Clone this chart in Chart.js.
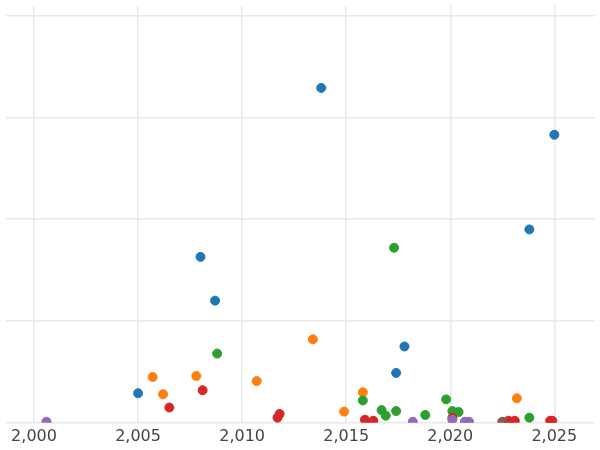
<!DOCTYPE html>
<html>
<head>
<script src="https://cdn.jsdelivr.net/npm/chart.js@4"></script>
<style>body{margin:0}#wrap{width:600px;height:450px}</style>
</head>
<body>
<div id="wrap"><canvas id="c"></canvas></div>
<script>
var xTicks = [2000, 2005, 2010, 2015, 2020, 2025];
var yGrid = [0, 1, 2, 3, 4];

var blueX = [2013.8, 2025.0, 2023.8, 2008.0, 2008.7, 2017.8, 2017.4, 2005.0];
var blueY = [3.29, 2.83, 1.90, 1.63, 1.20, 0.75, 0.49, 0.29];
var orangeX = [2005.7, 2006.2, 2007.8, 2010.7, 2013.4, 2015.8, 2014.9, 2023.2];
var orangeY = [0.45, 0.28, 0.46, 0.41, 0.82, 0.30, 0.11, 0.24];
var greenX = [2017.3, 2008.8, 2015.8, 2016.7, 2016.9, 2017.4, 2018.8, 2019.8, 2020.1, 2020.4, 2023.8];
var greenY = [1.72, 0.68, 0.22, 0.125, 0.07, 0.115, 0.077, 0.23, 0.115, 0.106, 0.05];
var redX = [2006.5, 2008.1, 2011.8, 2011.7, 2015.9, 2016.3, 2020.1, 2022.8, 2023.1, 2024.8, 2024.9];
var redY = [0.15, 0.32, 0.087, 0.05, 0.03, 0.02, 0.05, 0.02, 0.02, 0.02, 0.02];
var purpleX = [2000.6, 2018.2, 2020.1, 2020.7, 2020.9];
var purpleY = [0.01, 0.01, 0.03, 0.01, 0.01];
var brownX = [2022.5];
var brownY = [0.01];

function pts(xs, ys) {
    var out = [];
    for (var i = 0; i < xs.length; i++) out.push({x: xs[i], y: ys[i]});
    return out;
}
function ds(xs, ys, color) {
    return {data: pts(xs, ys), backgroundColor: color, borderColor: color, pointRadius: 4.5, pointHoverRadius: 4.5};
}

new Chart("c", {
    type: "scatter",
    data: {
        datasets: [
            ds(purpleX, purpleY, "#9467bd"),
            ds(brownX, brownY, "#8c564b"),
            ds(redX, redY, "#d62728"),
            ds(greenX, greenY, "#2ca02c"),
            ds(orangeX, orangeY, "#ff7f0e"),
            ds(blueX, blueY, "#1f77b4")
        ]
    },
    options: {
        responsive: true,
        maintainAspectRatio: false,
        animation: false,
        layout: {padding: 0},
        plugins: {legend: {display: false}, tooltip: {enabled: false}},
        scales: {
            x: {
                type: "linear",
                min: 1998.63,
                max: 2026.93,
                afterBuildTicks: function (s) { s.ticks = xTicks.map(function (v) { return {value: v}; }); },
                grid: {color: "#e8e8e8", lineWidth: 1.5, drawTicks: false},
                border: {display: false},
                ticks: {color: "#444", font: {family: "DejaVu Sans", size: 16}, padding: 4}
            },
            y: {
                min: 0,
                max: 4.1,
                afterBuildTicks: function (s) { s.ticks = yGrid.map(function (v) { return {value: v}; }); },
                grid: {color: "#e8e8e8", lineWidth: 1.5, drawTicks: false},
                border: {display: false},
                ticks: {display: false}
            }
        }
    }
});
</script>
</body>
</html>
